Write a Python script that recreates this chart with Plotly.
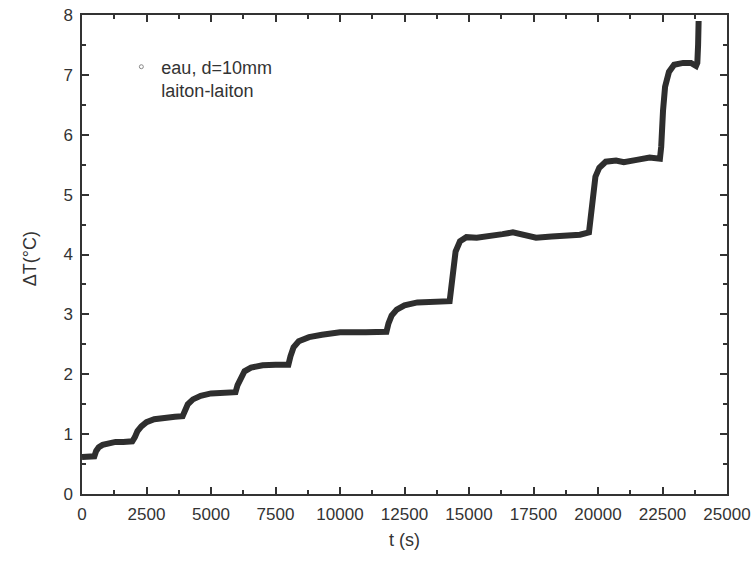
import plotly.graph_objects as go

# Data
t_s = [0, 300, 480, 550, 650, 800, 1000, 1300, 1600, 1950, 2050, 2150, 2300, 2500, 2800,
       3200, 3600, 3900, 3980, 4100, 4300, 4600, 5000, 5500, 5950, 6030, 6150, 6300, 6550,
       7000, 7500, 8000, 8080, 8200, 8400, 8800, 9300, 10000, 11000, 11800, 11880, 12000,
       12200, 12500, 13000, 13600, 14250, 14300, 14380, 14480, 14650, 14900, 15300, 15800,
       16300, 16700, 17100, 17600, 18200, 18800, 19300, 19650, 19700, 19800, 19900, 20050,
       20300, 20700, 21000, 21500, 22000, 22400, 22450, 22520, 22600, 22750, 22950, 23300,
       23600, 23800, 23850, 23880, 23900]
dT_c = [0.62, 0.62, 0.63, 0.72, 0.78, 0.82, 0.85, 0.87, 0.87, 0.88, 0.95, 1.05, 1.13, 1.20, 1.25,
        1.28, 1.29, 1.30, 1.40, 1.50, 1.58, 1.64, 1.68, 1.70, 1.70, 1.82, 1.95, 2.05, 2.11,
        2.15, 2.16, 2.16, 2.30, 2.45, 2.55, 2.62, 2.66, 2.70, 2.70, 2.71, 2.85, 2.98,
        3.08, 3.15, 3.20, 3.22, 3.22, 3.40, 3.80, 4.05, 4.22, 4.29, 4.28, 4.30,
        4.34, 4.37, 4.33, 4.28, 4.30, 4.32, 4.33, 4.37, 4.60, 5.00, 5.30, 5.45,
        5.55, 5.57, 5.54, 5.58, 5.62, 5.60, 5.80, 6.40, 6.80, 7.05, 7.17, 7.20,
        7.20, 7.15, 7.20, 7.50, 7.90]

x_ticks = [0, 2500, 5000, 7500, 10000, 12500, 15000, 17500, 20000, 22500, 25000]
y_ticks = [0, 1, 2, 3, 4, 5, 6, 7, 8]
legend_label = "eau, d=10mm<br>laiton-laiton"
x_title = "t (s)"
y_title = "ΔT(°C)"

axis_col = "#333333"
fam = "Liberation Sans, Arial, sans-serif"
tick_font = dict(family=fam, size=17, color="#333333")
title_font = dict(family=fam, size=18, color="#333333")

fig = go.Figure()
fig.add_trace(go.Scatter(x=t_s, y=dT_c, mode="lines",
                         line=dict(color="#2e2e2e", width=6),
                         showlegend=False))
fig.add_trace(go.Scatter(x=[None], y=[None], mode="markers", name=legend_label,
                         marker=dict(symbol="circle-open", size=4, color="#888888",
                                     line=dict(width=1)),
                         showlegend=True))

common = dict(showgrid=False, zeroline=False, showline=True, linecolor=axis_col,
              linewidth=1.5, mirror="ticks", ticks="inside", ticklen=7,
              tickwidth=1.5, tickcolor=axis_col, tickfont=tick_font, automargin=False,
              ticklabelstandoff=4)

fig.update_xaxes(range=[0, 25000], tickvals=x_ticks, ticktext=[str(v) for v in x_ticks],
                 minor=dict(dtick=1250, ticks="inside", ticklen=4, tickcolor=axis_col,
                            tickwidth=1.5, tick0=0),
                 **common)
fig.update_yaxes(range=[0, 8], tickvals=y_ticks, ticktext=[str(v) for v in y_ticks],
                 minor=dict(dtick=0.5, ticks="inside", ticklen=4, tickcolor=axis_col,
                            tickwidth=1.5, tick0=0),
                 **common)

fig.add_annotation(text=x_title, xref="paper", yref="paper", x=0.5, y=0,
                   xanchor="center", yanchor="middle", yshift=-46,
                   showarrow=False, font=title_font)
fig.add_annotation(text=y_title, xref="paper", yref="paper", x=0, y=0.49,
                   xanchor="center", yanchor="middle", xshift=-52, textangle=-90,
                   showarrow=False, font=title_font)

fig.update_layout(
    width=755, height=565,
    margin=dict(l=82, r=28, t=15, b=71),
    plot_bgcolor="white", paper_bgcolor="white",
    font=tick_font,
    legend=dict(x=0.061, y=0.93, xanchor="left", yanchor="top", valign="top",
                bgcolor="rgba(0,0,0,0)", font=dict(family=fam, size=18, color="#333333"),
                itemwidth=30, tracegroupgap=0),
)

fig.write_html("out.html", config={"displayModeBar": False},
               post_script="document.body.style.margin='0';")
